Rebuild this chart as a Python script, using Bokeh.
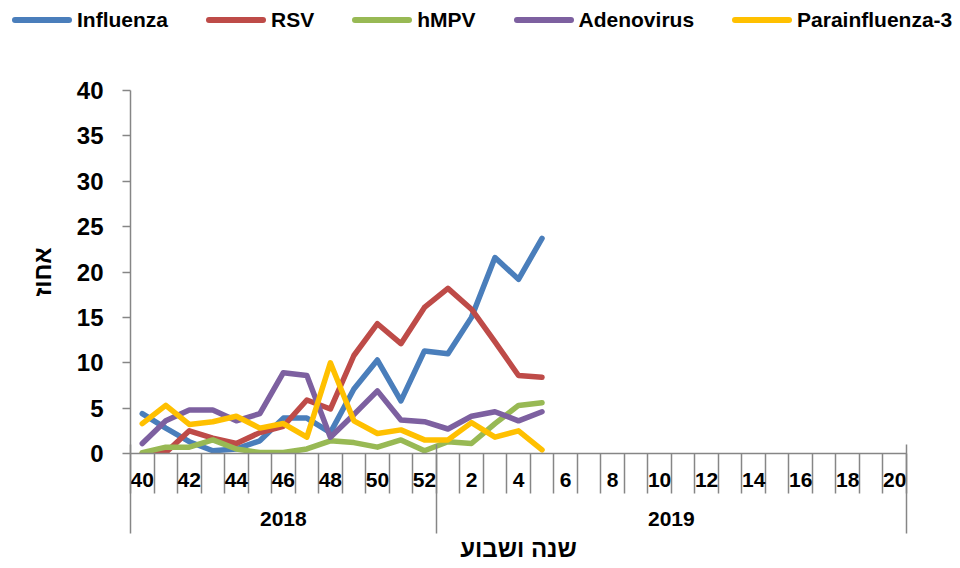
import numpy as np
from bokeh.plotting import figure
from bokeh.layouts import column
from bokeh.models import Range1d, LinearAxis, FixedTicker, Div
from bokeh.embed import file_html
from bokeh.resources import INLINE

# ---- data ----
weeks = ["40", "41", "42", "43", "44", "45", "46", "47", "48", "49", "50", "51", "52",
         "1", "2", "3", "4", "5", "6", "7", "8", "9", "10", "11", "12", "13", "14",
         "15", "16", "17", "18", "19", "20"]
years = ["2018"] * 13 + ["2019"] * 20

influenza = [4.4, 2.8, 1.3, 0.3, 0.5, 1.4, 3.9, 3.9, 2.3, 7.1, 10.3, 5.8, 11.3, 11.0, 15.0, 21.6, 19.2, 23.7]
rsv = [0.0, 0.1, 2.5, 1.7, 1.1, 2.3, 3.0, 5.9, 4.9, 10.8, 14.3, 12.1, 16.1, 18.2, 15.9, 12.3, 8.6, 8.4]
hmpv = [0.1, 0.7, 0.7, 1.5, 0.5, 0.1, 0.1, 0.5, 1.4, 1.2, 0.7, 1.5, 0.3, 1.3, 1.1, 3.3, 5.3, 5.6]
adenovirus = [1.1, 3.6, 4.8, 4.8, 3.6, 4.4, 8.9, 8.6, 1.8, 4.3, 6.9, 3.7, 3.5, 2.7, 4.1, 4.6, 3.6, 4.6]
para3 = [3.3, 5.3, 3.2, 3.5, 4.1, 2.8, 3.3, 1.8, 10.0, 3.6, 2.2, 2.6, 1.5, 1.5, 3.4, 1.8, 2.5, 0.4]

series_names = ["Influenza", "RSV", "hMPV", "Adenovirus", "Parainfluenza-3"]
series_values = [influenza, rsv, hmpv, adenovirus, para3]
series_colors = ["#4A7EBB", "#BE4B48", "#98B954", "#7D60A0", "#FFC000"]

y_ticks = list(range(0, 41, 5))

FONT = "Liberation Sans"
GRAY = "#868686"
LEG_H = 40
TOTAL_W = 956

n = len(weeks)
p = figure(frame_width=776, frame_height=363,
           x_range=Range1d(-0.5, n - 0.5), y_range=Range1d(0, 40),
           x_axis_type=None, output_backend="svg", toolbar_location=None,
           min_border_left=130, min_border_right=50, min_border_top=90 - LEG_H,
           min_border_bottom=112)
p.outline_line_color = None
p.grid.visible = False
p.background_fill_color = "white"
p.border_fill_color = "white"

# y axis
ya = p.yaxis[0]
ya.ticker = FixedTicker(ticks=y_ticks, minor_ticks=[])
ya.axis_line_color = GRAY
ya.axis_line_width = 1.5
ya.major_tick_line_color = GRAY
ya.major_tick_line_width = 1.5
ya.major_tick_out = 8
ya.major_tick_in = 0
ya.minor_tick_line_color = None
ya.minor_tick_out = 0
ya.minor_tick_in = 0
ya.major_label_standoff = 19
ya.major_label_text_font = FONT
ya.major_label_text_font_style = "bold"
ya.major_label_text_font_size = "24px"
ya.major_label_text_color = "black"
ya.axis_label = "אחוז"
ya.axis_label_text_font = FONT
ya.axis_label_text_font_style = "bold"
ya.axis_label_text_font_size = "24px"
ya.axis_label_text_color = "black"
ya.axis_label_standoff = 18

# x axis 1: week labels + category boundary ticks
label_idx = [i for i, w in enumerate(weeks) if int(w) % 2 == 0]
boundaries = [i - 0.5 for i in range(n + 1)]
xa1 = LinearAxis(ticker=FixedTicker(ticks=label_idx, minor_ticks=boundaries),
                 major_label_overrides={i: weeks[i] for i in label_idx})
xa1.axis_line_color = GRAY
xa1.axis_line_width = 1.5
xa1.major_tick_line_color = None
xa1.major_tick_out = 0
xa1.major_tick_in = 0
xa1.minor_tick_line_color = GRAY
xa1.minor_tick_line_width = 1.5
xa1.minor_tick_out = 40
xa1.minor_tick_in = 0
xa1.major_label_standoff = -21
xa1.major_label_text_font = FONT
xa1.major_label_text_font_style = "bold"
xa1.major_label_text_font_size = "21px"
xa1.major_label_text_color = "black"
p.add_layout(xa1, "below")

# x axis 2: year groups
year_names = []
for y in years:
    if y not in year_names:
        year_names.append(y)
year_pos = {}
seps = [-0.5]
for yn in year_names:
    idx = [i for i, y in enumerate(years) if y == yn]
    year_pos[float(np.mean(idx))] = yn
    seps.append(idx[-1] + 0.5)
xa2 = LinearAxis(ticker=FixedTicker(ticks=list(year_pos.keys()), minor_ticks=seps),
                 major_label_overrides=year_pos)
xa2.axis_line_color = None
xa2.major_tick_line_color = None
xa2.major_tick_out = 0
xa2.major_tick_in = 0
xa2.minor_tick_line_color = GRAY
xa2.minor_tick_line_width = 1.5
xa2.minor_tick_in = 45
xa2.minor_tick_out = 44
xa2.major_label_standoff = -22
xa2.major_label_text_font = FONT
xa2.major_label_text_font_style = "bold"
xa2.major_label_text_font_size = "21px"
xa2.major_label_text_color = "black"
xa2.axis_label = "שנה ושבוע"
xa2.axis_label_text_font = FONT
xa2.axis_label_text_font_style = "bold"
xa2.axis_label_text_font_size = "24px"
xa2.axis_label_text_color = "black"
xa2.axis_label_standoff = 6
p.add_layout(xa2, "below")

for name, vals, col in zip(series_names, series_values, series_colors):
    xs = list(range(len(vals)))
    p.line(xs, vals, line_width=5.5, line_color=col, line_cap="round", line_join="round")

# legend strip (HTML) above the plot
parts = []
for name, col in zip(series_names, series_colors):
    parts.append(
        f'<span style="display:inline-flex;align-items:center;margin-right:38px;">'
        f'<span style="display:inline-block;width:60px;height:6px;border-radius:3px;'
        f'background:{col};margin-right:5px;"></span>'
        f'<span>{name}</span></span>'
    )
legend_html = (
    f'<div style="display:flex;align-items:center;height:20px;margin-top:10px;'
    f'padding-left:12px;font-family:\'{FONT}\';font-weight:bold;font-size:21px;'
    f'color:black;white-space:nowrap;line-height:20px;">' + "".join(parts) + '</div>'
)
leg = Div(text=legend_html, width=TOTAL_W, height=LEG_H, margin=0)

layout = column(leg, p, spacing=0)
open("out.html", "w").write(file_html(layout, INLINE))
